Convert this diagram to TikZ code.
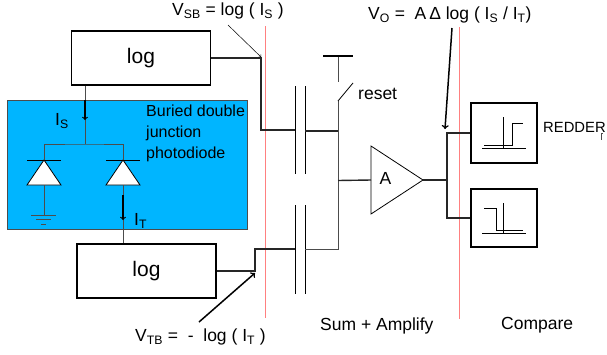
\documentclass[tikz,border=0pt]{standalone}
\usepackage{fontspec}
\setmainfont{Liberation Sans}
\definecolor{buried}{RGB}{0,181,255}
\tikzset{
    wire/.style={line width=1.4pt, black!85},
    thinwire/.style={line width=0.9pt, black!70},
    plate/.style={line width=1pt},
    logbox/.style={draw, line width=1.4pt, fill=white, font=\fontsize{21}{24}\selectfont, inner sep=0pt},
    cmpbox/.style={draw, line width=1.4pt, fill=white, inner sep=0pt},
    divline/.style={draw=red!50!white, line width=1.4pt},
    label/.style={font=\fontsize{17.5}{20}\selectfont, inner sep=0pt},
    pointer/.style={->, line width=1.5pt},
}
\begin{document}
\begin{tikzpicture}[x=1pt, y=-1pt]
        \useasboundingbox (0,0) rectangle (607,354);

        % Buried photodiode region
        \node[draw=black!70, fill=buried, line width=0.8pt, minimum width=240pt, minimum height=129pt, inner sep=0pt, anchor=north west] (well) at (7,100) {};
        \node[anchor=north west, align=left, inner sep=0pt, font=\fontsize{16}{21}\selectfont] (welltext) at (146,105) {Buried double\\junction\\photodiode};

        % Divider lines
        \coordinate (divatop) at (265.5,26);
        \coordinate (divabot) at (265.5,318);
        \coordinate (divbtop) at (459.5,27);
        \coordinate (divbbot) at (459.5,319);
        \draw[divline] (divatop) -- (divabot);
        \draw[divline] (divbtop) -- (divbbot);

        % Log boxes
        \node[logbox, minimum width=139pt, minimum height=54pt] (logs) at (141,58) {log};
        \node[logbox, minimum width=139pt, minimum height=54pt] (logt) at (146.5,271) {log};

        % Diodes
        \foreach \name/\xpos in {diodea/44, diodeb/123} {
            \coordinate (\name top) at (\xpos,160);
            \coordinate (\name bot) at (\xpos,185);
            \filldraw[fill=white, draw=black, line width=0.8pt] (\name top) -- (\xpos-17,185) -- (\xpos+17,185) -- cycle;
            \draw[line width=1pt] (\xpos-17,160) -- (\xpos+17,160);
        }

        % Photocurrent wires
        \coordinate (split) at (85,144);
        \coordinate (gnd) at (44,215);
        \draw[thinwire] (logs.south -| split) -- (split);
        \draw[thinwire] (diodeatop) |- (split) -| (diodebtop);
        \draw[thinwire] (diodeabot) -- (gnd);
        \draw[thinwire] (diodebbot) -- (diodebbot |- logt.north);
        \draw[thinwire] (31,215) -- (56,215);
        \draw[thinwire] (36,219.5) -- (51,219.5);
        \draw[thinwire] (41,224.5) -- (46,224.5);

        % Current arrows
        \coordinate (arrowsa) at (85,100);
        \coordinate (arrowsb) at (85,120);
        \coordinate (arrowta) at (123,195);
        \coordinate (arrowtb) at (123,220);
        \draw[->, line width=1.1pt] (arrowsa) -- (arrowsb);
        \draw[->, line width=1.1pt] (arrowta) -- (arrowtb);
        \node[label, anchor=west] (is) at (55,121) {I\textsubscript{S}};
        \node[label, anchor=west] (it) at (134,221) {I\textsubscript{T}};

        % Capacitor plates
        \foreach \name/\ytop/\ybot in {capa/86/174, capb/205/294} {
            \draw[plate] (295,\ytop) coordinate (\name w) -- (295,\ybot);
            \draw[plate] (305,\ytop) coordinate (\name e) -- (305,\ybot);
        }

        % Sum node and reset switch
        \coordinate (sensein) at (295,130);
        \coordinate (senseout) at (305,131);
        \coordinate (refin) at (295,249);
        \coordinate (refout) at (305,249);
        \coordinate (swlow) at (338,101);
        \coordinate (swhigh) at (353,83);
        \coordinate (rail) at (338,56);
        \coordinate (railend) at (338,82);
        \draw[wire] (logs.east) -- (261,58) |- (sensein);
        \draw[wire] (logt.east) -- (255,271) |- (refin);
        \draw[wire] (senseout) -- (338,131);
        \draw[thinwire] (refout) -- (338,249) -- (swlow);
        \draw[line width=0.8pt] (swlow) -- (swhigh);
        \draw[thinwire] (rail) -- (railend);
        \draw[line width=1.4pt] (323,56) -- (353,56);
        \node[label, anchor=west] (reset) at (358,94) {reset};

        % Amplifier
        \coordinate (ampa) at (371,146);
        \coordinate (ampb) at (371,214);
        \coordinate (ampout) at (423,180);
        \draw[line width=0.8pt] (ampa) -- (ampb) -- (ampout) -- cycle;
        \node[label] (amp) at (385.5,178) {A};
        \draw[wire] (338,180.5) -- (ampa |- ampout);

        % Compare boxes
        \node[cmpbox, minimum width=66pt, minimum height=60pt] (cmpa) at (504,133) {};
        \node[cmpbox, minimum width=66pt, minimum height=58pt] (cmpb) at (504,218) {};
        \draw[wire] (ampout) -- (447,180);
        \draw[wire] (cmpa.west) -- (447,133) -- (447,218) -- (cmpb.west);

        % Comparator symbols
        \draw[line width=0.7pt] (503,117) -- (503,148);
        \draw[line width=0.7pt] (482,148) -- (526,148);
        \draw[line width=0.9pt] (484,145) -- (512,145) -- (512,123) -- (523,123);
        \draw[line width=0.7pt] (503,203) -- (503,233.5);
        \draw[line width=0.7pt] (482,233.5) -- (526,233.5);
        \draw[line width=0.9pt] (484,208) -- (496,208) -- (496,230) -- (523,230);
        \node[anchor=west, inner sep=0pt, font=\fontsize{14.8}{17}\selectfont] (redder) at (543,127) {REDDER};
        \coordinate (ticka) at (601,133);
        \coordinate (tickb) at (601,140);
        \draw[line width=0.6pt, black!70] (603,133) -- (ticka) -- (tickb);

        % Voltage labels
        \node[label, anchor=west] (vsb) at (172,11) {V\textsubscript{SB} = log ( I\textsubscript{S} )};
        \node[label, anchor=west] (vo) at (368,15) {V\textsubscript{O} =\ \ A\,Δ log ( I\textsubscript{S} / I\textsubscript{T})};
        \node[label, anchor=west] (vtb) at (135,337) {V\textsubscript{TB} =\ \ -\ \ log ( I\textsubscript{T} )};
        \node[label, anchor=west] (sumamp) at (320,326) {Sum + Amplify};
        \node[label, anchor=west] (compare) at (501,325) {Compare};

        % Pointers
        \coordinate (vsbtail) at (228,25);
        \coordinate (vsbhead) at (261,57);
        \coordinate (votail) at (452,28);
        \coordinate (vohead) at (445,129);
        \coordinate (vtbtail) at (199,322);
        \coordinate (vtbhead) at (255,273);
        \draw[->, line width=0.5pt] (vsbtail) -- (vsbhead);
        \draw[pointer] (votail) -- (vohead);
        \draw[pointer] (vtbtail) -- (vtbhead);

    \end{tikzpicture}
\end{document}
